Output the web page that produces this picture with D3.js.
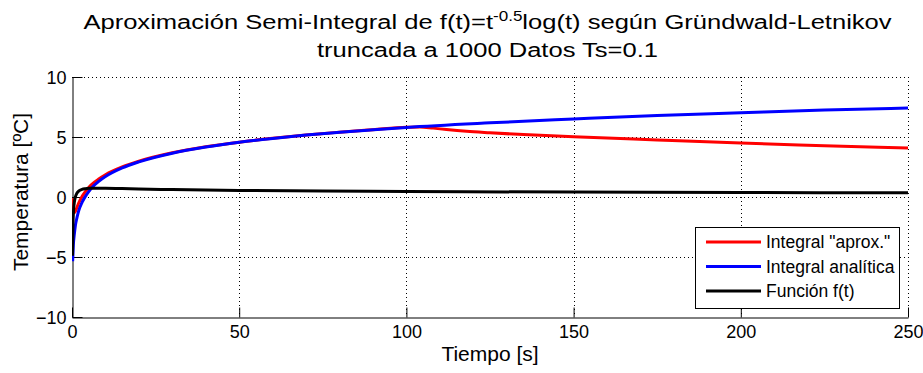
<!DOCTYPE html>
<html>
<head>
<meta charset="utf-8">
<script src="https://cdn.jsdelivr.net/npm/d3@7"></script>
<style>
  body { margin: 0; background: #fff; }
  svg { display: block; }
  text { font-family: "Liberation Sans", Arial, sans-serif; fill: #000; }
</style>
</head>
<body>
<svg id="chart" width="923" height="373"></svg>
<script>
// ---- Data ----
const xTicks = [0, 50, 100, 150, 200, 250];
const yTicks = [-10, -5, 0, 5, 10];

const tAprox = [0.1, 0.3, 0.6, 1, 1.5, 2, 3, 4, 5, 6, 8, 10, 15, 20, 30, 40, 50, 60, 70, 80, 90, 100, 104, 108, 112, 118, 125, 135, 150, 175, 200, 225, 250];
const vAprox = [-0.1, -0.9, -1.3, -1.2, -0.85, -0.5, 0.05, 0.45, 0.8, 1.08, 1.5, 1.85, 2.5, 2.98, 3.68, 4.18, 4.57, 4.89, 5.17, 5.4, 5.61, 5.81, 5.84, 5.74, 5.62, 5.47, 5.35, 5.2, 5.02, 4.75, 4.49, 4.28, 4.08];

const tAnalitica = [0.2, 0.4, 0.7, 1, 1.5, 2, 3, 4, 5, 6, 8, 10, 15, 20, 30, 40, 50, 60, 70, 80, 90, 100, 125, 150, 175, 200, 225, 250];
const vAnalitica = [-5.35, -4.0, -3.1, -2.4, -1.7, -1.15, -0.45, 0.05, 0.45, 0.8, 1.3, 1.7, 2.42, 2.93, 3.65, 4.16, 4.56, 4.88, 5.16, 5.39, 5.6, 5.8, 6.18, 6.5, 6.8, 7.02, 7.24, 7.42];

const tFuncion = [0.15, 0.3, 0.5, 0.7, 1, 1.5, 2, 3, 4, 5, 7.5, 10, 15, 20, 30, 50, 75, 100, 150, 200, 250];
const vFuncion = [-4.9, -2.2, -0.98, -0.43, 0, 0.33, 0.49, 0.63, 0.69, 0.72, 0.736, 0.73, 0.7, 0.67, 0.62, 0.55, 0.5, 0.46, 0.41, 0.375, 0.35];

const seriesNames = ['Integral "aprox."', 'Integral analítica', 'Función f(t)'];
const seriesColors = ['#ff0000', '#0000ff', '#000000'];

// ---- Layout ----
const svg = d3.select('#chart');
const pL = 72, pR = 908, pT = 77, pB = 317;

const x = d3.scaleLinear().domain([0, 250]).range([pL, pR]);
const y = d3.scaleLinear().domain([-10, 10]).range([pB, pT]);

// grid (dotted)
const grid = svg.append('g').attr('stroke', '#000').attr('stroke-width', 1).attr('stroke-dasharray', '1,3');
grid.selectAll('line.gx').data(xTicks.filter(d => d > 0)).enter().append('line')
  .attr('x1', d => Math.round(x(d)) + 0.5).attr('x2', d => Math.round(x(d)) + 0.5)
  .attr('y1', pT).attr('y2', pB);
grid.selectAll('line.gy').data(yTicks.filter(d => d > -10)).enter().append('line')
  .attr('y1', d => Math.round(y(d)) + 0.5).attr('y2', d => Math.round(y(d)) + 0.5)
  .attr('x1', pL).attr('x2', pR);

// axes
const xAxis = d3.axisBottom(x).tickValues(xTicks).tickSizeInner(-10).tickSizeOuter(0);
const yAxis = d3.axisLeft(y).tickValues(yTicks).tickSizeInner(-10).tickSizeOuter(0);

const gx = svg.append('g').attr('transform', `translate(0,${pB + 0.5})`).call(xAxis);
const gy = svg.append('g').attr('transform', `translate(${pL + 0.5},0)`).call(yAxis);
[gx, gy].forEach(g => {
  g.select('.domain').attr('stroke', '#000');
  g.selectAll('.tick line').attr('stroke', '#000');
  g.selectAll('.tick text').style('font-size', '18px').style('font-family', '"Liberation Sans", Arial, sans-serif').attr('fill', '#000');
});
gx.selectAll('.tick text').attr('dy', null).attr('y', 20.5);
gy.selectAll('.tick text').attr('x', -6).attr('dy', '0.35em');

// lines
const line = d3.line().x(d => x(d[0])).y(d => y(d[1])).curve(d3.curveMonotoneX);
const series = [
  d3.zip(tAprox, vAprox),
  d3.zip(tAnalitica, vAnalitica),
  d3.zip(tFuncion, vFuncion)
];
svg.append('defs').append('clipPath').attr('id', 'clip')
  .append('rect').attr('x', pL).attr('y', pT - 2).attr('width', pR - pL + 2).attr('height', pB - pT + 4);
svg.append('g').attr('clip-path', 'url(#clip)')
  .selectAll('path').data(series).enter().append('path')
  .attr('d', line)
  .attr('fill', 'none')
  .attr('stroke', (d, i) => seriesColors[i])
  .attr('stroke-width', 3)
  .attr('stroke-linejoin', 'round');

// legend
const lg = svg.append('g');
lg.append('rect').attr('x', 695.5).attr('y', 227.5).attr('width', 204).attr('height', 81)
  .attr('fill', '#fff').attr('stroke', '#000').attr('stroke-width', 1);
const items = lg.selectAll('g.item').data(seriesNames).enter().append('g')
  .attr('transform', (d, i) => `translate(0,${242 + i * 24.5})`);
items.append('line').attr('x1', 706).attr('x2', 761).attr('y1', 0).attr('y2', 0)
  .attr('stroke', (d, i) => seriesColors[i]).attr('stroke-width', 3);
items.append('text').attr('x', 766).attr('y', 0).attr('dy', '0.36em')
  .style('font-size', '17.5px').text(d => d);

// title (stretched horizontally to the reference width)
const titleCx = 487.5, titleW = 809;
const t1 = svg.append('text').attr('text-anchor', 'middle').style('font-size', '21px');
t1.append('tspan').text('Aproximación Semi-Integral de f(t)=t');
t1.append('tspan').attr('dy', -8).style('font-size', '14px').text('-0.5');
t1.append('tspan').attr('dy', 8).text('log(t) según Gründwald-Letnikov');
const sx = titleW / t1.node().getComputedTextLength();
t1.attr('transform', `translate(${titleCx},29) scale(${sx},1)`);
svg.append('text').attr('text-anchor', 'middle').style('font-size', '21px')
  .attr('transform', `translate(${titleCx},57) scale(${sx},1)`)
  .text('truncada a 1000 Datos Ts=0.1');

// axis labels
svg.append('text').attr('x', 490).attr('y', 361).attr('text-anchor', 'middle')
  .style('font-size', '21px').text('Tiempo [s]');
svg.append('text').attr('transform', 'translate(28,192) rotate(-90)').attr('text-anchor', 'middle')
  .style('font-size', '21px').text('Temperatura [ºC]');
</script>
</body>
</html>
